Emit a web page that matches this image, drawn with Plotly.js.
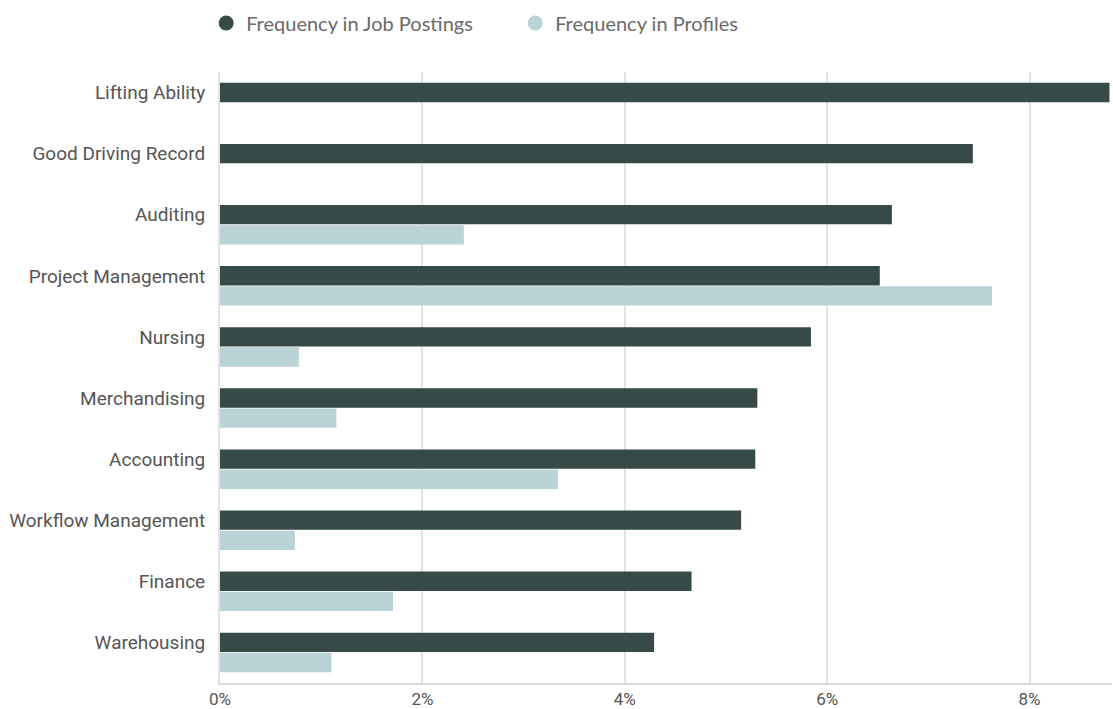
<!DOCTYPE html>
<html>
<head>
<meta charset="utf-8">
<script src="https://cdn.plot.ly/plotly-3.0.1.min.js"></script>
<style>html,body{margin:0;padding:0;background:#fff;}#chart{width:1113px;height:709px;}</style>
</head>
<body>
<div id="chart"></div>
<script>
const skills = ["Lifting Ability","Good Driving Record","Auditing","Project Management","Nursing","Merchandising","Accounting","Workflow Management","Finance","Warehousing"];
const jobPostings = [8.79, 7.44, 6.64, 6.52, 5.84, 5.31, 5.29, 5.15, 4.66, 4.29];
const profiles = [null, null, 2.41, 7.63, 0.78, 1.15, 3.34, 0.74, 1.71, 1.10];
const seriesNames = ["Frequency in Job Postings", "Frequency in Profiles"];
const colors = ["#364a48", "#b9d3d7"];

const traces = [
  {type:'bar', orientation:'h', y:skills, x:jobPostings, name:seriesNames[0], marker:{color:colors[0]}, showlegend:false},
  {type:'bar', orientation:'h', y:skills, x:profiles, name:seriesNames[1], marker:{color:colors[1]}, showlegend:false},
  {type:'scatter', mode:'markers', x:[null], y:[null], name:seriesNames[0], marker:{color:colors[0], size:15, symbol:'circle'}, showlegend:true, legend:'legend'},
  {type:'scatter', mode:'markers', x:[null], y:[null], name:seriesNames[1], marker:{color:colors[1], size:15, symbol:'circle'}, showlegend:true, legend:'legend2'}
];

const legendFont = {family:'Lato, sans-serif', size:20, color:'#6a6a6a'};
const layout = {
  width:1113, height:709,
  margin:{l:220, r:1, t:72, b:26},
  paper_bgcolor:'#fff', plot_bgcolor:'#fff',
  barmode:'group', bargap:0.34, bargroupgap:0.04,
  showlegend:true,
  legend:{orientation:'h', xref:'paper', x:-0.0155, xanchor:'left', yref:'container', y:0.995, yanchor:'top', font:legendFont, itemwidth:30},
  legend2:{orientation:'h', xref:'paper', x:0.3309, xanchor:'left', yref:'container', y:0.995, yanchor:'top', font:legendFont, itemwidth:30},
  xaxis:{range:[0, 8.815], tickvals:[0,2,4,6,8], ticktext:['0%','2%','4%','6%','8%'], showgrid:true, gridcolor:'#e3e3e3', gridwidth:2, zeroline:false, showline:true, linecolor:'#dcdcdc', linewidth:2, tickfont:{family:'Roboto, sans-serif', size:17, color:'#555'}, ticks:'', fixedrange:true},
  yaxis:{type:'category', autorange:'reversed', showgrid:false, zeroline:false, showline:true, linecolor:'#e3e3e3', linewidth:2, tickfont:{family:'Roboto, sans-serif', size:19, color:'#555'}, ticks:'', ticklabelstandoff:9, ticklabelshift:10, fixedrange:true}
};

Plotly.newPlot('chart', traces, layout, {displayModeBar:false, staticPlot:true});
</script>
</body>
</html>
